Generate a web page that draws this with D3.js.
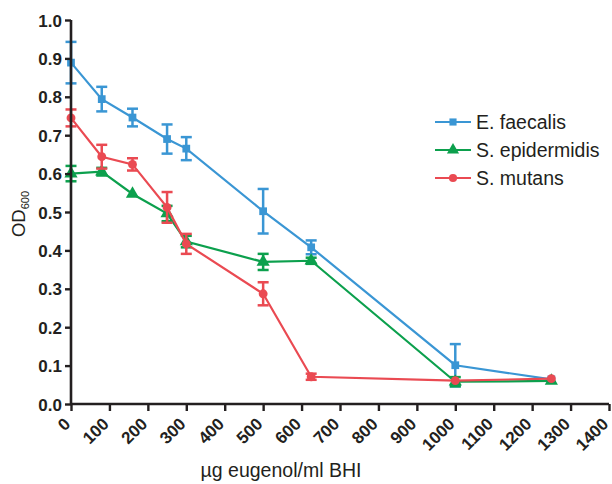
<!DOCTYPE html>
<html>
<head>
<meta charset="utf-8">
<script src="https://d3js.org/d3.v7.min.js"></script>
<style>
  body { margin: 0; background: #fff; }
  text { font-family: "Liberation Sans", Arial, sans-serif; }
</style>
</head>
<body>
<div id="chart"></div>
<script>
// data
var doses = [0, 80, 160, 250, 300, 500, 625, 1000, 1250];
var faecalisMean = [0.889, 0.794, 0.746, 0.690, 0.665, 0.502, 0.408, 0.101, 0.064];
var faecalisErr  = [0.054, 0.032, 0.023, 0.038, 0.030, 0.058, 0.018, 0.055, 0.004];
var epidermidisMean = [0.600, 0.605, 0.547, 0.496, 0.423, 0.370, 0.373, 0.058, 0.060];
var epidermidisErr  = [0.020, 0.010, 0.005, 0.020, 0.015, 0.021, 0.008, 0.012, 0.004];
var mutansMean = [0.745, 0.644, 0.624, 0.512, 0.417, 0.287, 0.071, 0.061, 0.066];
var mutansErr  = [0.022, 0.031, 0.016, 0.040, 0.026, 0.030, 0.008, 0.004, 0.004];
var seriesNames = ["E. faecalis", "S. epidermidis", "S. mutans"];
var xTicks = d3.range(0, 1401, 100);
var yTicks = d3.range(0, 1.01, 0.1);

var colors = ["#3a96d4", "#0ca04d", "#ea4a52"];
var shapes = [d3.symbolSquare, d3.symbolTriangle, d3.symbolCircle];
var sizes = [60, 75, 62];

var W = 612, H = 484;
var margin = {top: 20, left: 71};

var svg = d3.select("#chart").append("svg")
    .attr("width", W).attr("height", H);
var g = svg.append("g")
    .attr("transform", "translate(" + margin.left + "," + margin.top + ")");

var x = d3.scaleLinear().domain([0, 1400]).range([0, 538]);
var y = d3.scaleLinear().domain([0, 1]).range([384, 0]);

// series table
var series = [
  {name: seriesNames[0], mean: faecalisMean, err: faecalisErr},
  {name: seriesNames[1], mean: epidermidisMean, err: epidermidisErr},
  {name: seriesNames[2], mean: mutansMean, err: mutansErr}
].map(function(s, i) {
  s.color = colors[i];
  s.shape = shapes[i];
  s.size = sizes[i];
  s.points = doses.map(function(d, j) { return {x: d, y: s.mean[j], e: s.err[j]}; });
  return s;
});

var line = d3.line().x(function(d) { return x(d.x); }).y(function(d) { return y(d.y); });

series.forEach(function(s) {
  var sg = g.append("g");
  sg.append("path").datum(s.points)
    .attr("d", line).attr("fill", "none")
    .attr("stroke", s.color).attr("stroke-width", 2.2);

  // error bars
  var eb = sg.selectAll(".eb").data(s.points.filter(function(d) { return d.e > 0.006; }))
    .enter().append("g").attr("stroke", s.color).attr("stroke-width", 2.5);
  eb.append("line")
    .attr("x1", function(d) { return x(d.x); }).attr("x2", function(d) { return x(d.x); })
    .attr("y1", function(d) { return y(d.y + d.e); }).attr("y2", function(d) { return y(d.y - d.e); });
  eb.append("line")
    .attr("x1", function(d) { return x(d.x) - 5.5; }).attr("x2", function(d) { return x(d.x) + 5.5; })
    .attr("y1", function(d) { return y(d.y + d.e); }).attr("y2", function(d) { return y(d.y + d.e); });
  eb.append("line")
    .attr("x1", function(d) { return x(d.x) - 5.5; }).attr("x2", function(d) { return x(d.x) + 5.5; })
    .attr("y1", function(d) { return y(d.y - d.e); }).attr("y2", function(d) { return y(d.y - d.e); });

  sg.selectAll(".pt").data(s.points).enter().append("path")
    .attr("d", d3.symbol().type(s.shape).size(s.size))
    .attr("transform", function(d) { return "translate(" + x(d.x) + "," + y(d.y) + ")"; })
    .attr("fill", s.color);
});

// axes
var yAxis = g.append("g")
  .call(d3.axisLeft(y).tickValues(yTicks).tickFormat(d3.format(".1f")).tickSize(6).tickPadding(3));
var xAxis = g.append("g").attr("transform", "translate(0,384)")
  .call(d3.axisBottom(x).tickValues(xTicks).tickFormat(d3.format("d")).tickSize(7).tickPadding(4));

[xAxis, yAxis].forEach(function(a) {
  a.select(".domain").attr("stroke", "#231f20").attr("stroke-width", 2.6);
  a.selectAll(".tick line").attr("stroke", "#231f20").attr("stroke-width", 2.4);
  a.selectAll("text").attr("fill", "#231f20")
    .style("font-size", "17px").style("font-weight", "bold")
    .style("font-family", "'Liberation Sans', Arial, sans-serif");
});
yAxis.selectAll("text").attr("dy", "0.36em");
xAxis.selectAll("text")
  .attr("text-anchor", "end")
  .attr("dy", 0)
  .attr("transform", "translate(0,21) rotate(-45)")
  .attr("y", 0).attr("x", 0);
xAxis.select(".domain").attr("d", "M0,0H538");
yAxis.select(".domain").attr("d", "M0,0V384");

// axis titles
var yt = svg.append("text")
  .attr("transform", "translate(25,214) rotate(-90)")
  .attr("text-anchor", "middle")
  .attr("fill", "#231f20")
  .style("font-size", "18.5px");
yt.append("tspan").text("OD");
yt.append("tspan").text("600").attr("dy", "3.5").style("font-size", "11px");

svg.append("text")
  .attr("x", 281).attr("y", 477)
  .attr("text-anchor", "middle")
  .attr("fill", "#231f20")
  .style("font-size", "19.5px")
  .text("\u00b5g eugenol/ml BHI");

// legend
var leg = svg.append("g").attr("transform", "translate(435,122)");
series.forEach(function(s, i) {
  var r = leg.append("g").attr("transform", "translate(0," + (i * 28) + ")");
  r.append("line").attr("x1", 0).attr("x2", 36).attr("stroke", s.color).attr("stroke-width", 2.2);
  r.append("path").attr("d", d3.symbol().type(s.shape).size(s.size * 0.85))
    .attr("transform", "translate(18,0)").attr("fill", s.color);
  r.append("text").attr("x", 41).attr("dy", "0.36em")
    .attr("fill", "#231f20").style("font-size", "19.5px").text(s.name);
});
</script>
</body>
</html>
